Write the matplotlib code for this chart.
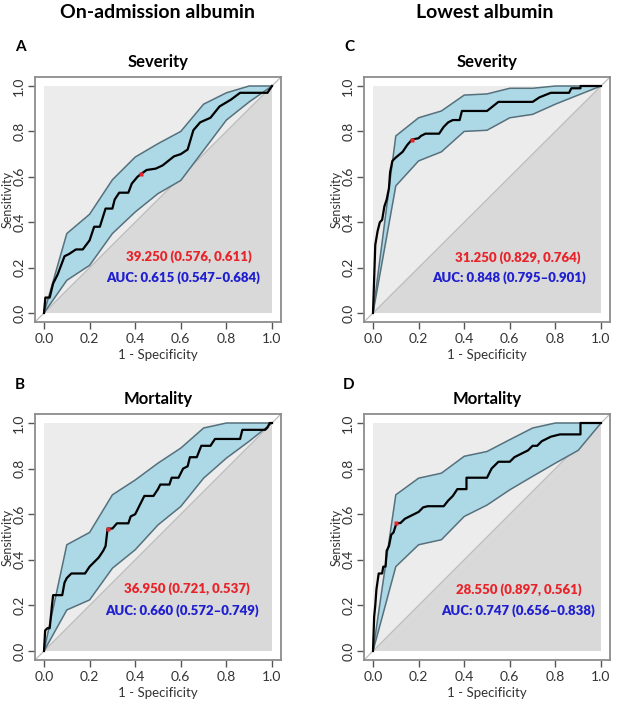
"""
ROC curves for albumin: on-admission vs lowest, severity and mortality.
Four panels, pROC-style with CI band for sensitivity.
"""

import matplotlib
matplotlib.use("Agg")
import matplotlib.pyplot as plt
from matplotlib.patches import Polygon, Rectangle

plt.rcParams["font.family"] = ["Lato", "DejaVu Sans"]

# CI band is evaluated at these 1 - specificity points
band_x = [0.0, 0.1, 0.2, 0.3, 0.4, 0.5, 0.6, 0.7, 0.8, 0.9, 1.0]

# --- A: on-admission albumin, severity
a_roc_x = [0, 0.006, 0.025, 0.04, 0.06, 0.09, 0.11, 0.14, 0.17, 0.2, 0.22, 0.245,
           0.27, 0.3, 0.31, 0.33, 0.37, 0.385, 0.41, 0.424, 0.45, 0.49, 0.52,
           0.57, 0.6, 0.63, 0.655, 0.685, 0.73, 0.77, 0.82, 0.86, 0.92, 0.98, 1.0]
a_roc_y = [0, 0.068, 0.068, 0.13, 0.17, 0.25, 0.26, 0.28, 0.28, 0.32, 0.38, 0.38,
           0.46, 0.46, 0.50, 0.53, 0.53, 0.57, 0.60, 0.611, 0.63, 0.636, 0.65,
           0.69, 0.70, 0.72, 0.805, 0.84, 0.86, 0.91, 0.94, 0.97, 0.97, 0.97, 1.0]
a_upper = [0, 0.35, 0.435, 0.587, 0.687, 0.746, 0.80, 0.92, 0.97, 1.0, 1.0]
a_lower = [0, 0.144, 0.21, 0.35, 0.445, 0.526, 0.584, 0.717, 0.85, 0.93, 1.0]
a_thr = (0.424, 0.611)
a_labels = ("39.250 (0.576, 0.611)", "AUC: 0.615 (0.547\u20130.684)")

# --- C: lowest albumin, severity
c_roc_x = [0, 0.005, 0.01, 0.02, 0.03, 0.04, 0.05, 0.06, 0.07, 0.075, 0.085, 0.1,
           0.13, 0.15, 0.171, 0.2, 0.21, 0.23, 0.29, 0.31, 0.33, 0.35, 0.38, 0.39,
           0.5, 0.55, 0.7, 0.73, 0.78, 0.86, 0.87, 0.91, 0.91, 1.0]
c_roc_y = [0, 0.15, 0.30, 0.36, 0.40, 0.41, 0.47, 0.50, 0.55, 0.62, 0.67, 0.685,
           0.71, 0.74, 0.764, 0.77, 0.78, 0.79, 0.79, 0.82, 0.84, 0.85, 0.85, 0.89,
           0.89, 0.93, 0.93, 0.95, 0.97, 0.97, 0.99, 0.99, 1.0, 1.0]
c_upper = [0, 0.78, 0.86, 0.89, 0.96, 0.965, 0.99, 0.99, 1.0, 1.0, 1.0]
c_lower = [0, 0.56, 0.67, 0.71, 0.80, 0.805, 0.86, 0.875, 0.92, 0.96, 1.0]
c_thr = (0.171, 0.764)
c_labels = ("31.250 (0.829, 0.764)", "AUC: 0.848 (0.795\u20130.901)")

# --- B: on-admission albumin, mortality
b_roc_x = [0, 0.005, 0.015, 0.025, 0.03, 0.035, 0.04, 0.08, 0.09, 0.1, 0.12, 0.18,
           0.2, 0.22, 0.24, 0.26, 0.27, 0.279, 0.3, 0.32, 0.37, 0.38, 0.4, 0.42,
           0.43, 0.44, 0.48, 0.5, 0.51, 0.55, 0.56, 0.59, 0.6, 0.61, 0.63, 0.64,
           0.67, 0.69, 0.73, 0.75, 0.86, 0.87, 0.97, 0.98, 0.99, 1.0]
b_roc_y = [0, 0.09, 0.10, 0.10, 0.15, 0.20, 0.245, 0.245, 0.30, 0.32, 0.34, 0.34,
           0.37, 0.39, 0.41, 0.44, 0.46, 0.537, 0.537, 0.56, 0.56, 0.59, 0.60, 0.64,
           0.66, 0.68, 0.68, 0.71, 0.73, 0.73, 0.76, 0.76, 0.78, 0.80, 0.81, 0.85,
           0.85, 0.90, 0.90, 0.93, 0.93, 0.97, 0.97, 0.98, 1.0, 1.0]
b_upper = [0, 0.466, 0.52, 0.685, 0.75, 0.824, 0.89, 0.978, 1.0, 1.0, 1.0]
b_lower = [0, 0.18, 0.224, 0.363, 0.444, 0.553, 0.634, 0.758, 0.846, 0.92, 1.0]
b_thr = (0.279, 0.537)
b_labels = ("36.950 (0.721, 0.537)", "AUC: 0.660 (0.572\u20130.749)")

# --- D: lowest albumin, mortality
d_roc_x = [0, 0.005, 0.01, 0.015, 0.025, 0.04, 0.045, 0.055, 0.06, 0.07, 0.08,
           0.09, 0.103, 0.12, 0.14, 0.18, 0.2, 0.22, 0.24, 0.31, 0.33, 0.35, 0.37,
           0.41, 0.41, 0.5, 0.52, 0.55, 0.6, 0.62, 0.66, 0.68, 0.7, 0.72, 0.74,
           0.78, 0.82, 0.91, 0.91, 1.0]
d_roc_y = [0, 0.15, 0.20, 0.27, 0.34, 0.34, 0.37, 0.37, 0.44, 0.46, 0.51,
           0.52, 0.561, 0.561, 0.58, 0.60, 0.61, 0.63, 0.635, 0.635, 0.66, 0.68, 0.71,
           0.71, 0.76, 0.76, 0.80, 0.83, 0.83, 0.85, 0.87, 0.88, 0.90, 0.90, 0.92,
           0.94, 0.95, 0.95, 1.0, 1.0]
d_upper = [0, 0.685, 0.758, 0.78, 0.854, 0.875, 0.927, 0.978, 1.0, 1.0, 1.0]
d_lower = [0, 0.37, 0.466, 0.488, 0.59, 0.64, 0.707, 0.766, 0.824, 0.88, 1.0]
d_thr = (0.103, 0.561)
d_labels = ("28.550 (0.897, 0.561)", "AUC: 0.747 (0.656\u20130.838)")

W, H = 618, 706
EXT = 0.04  # R's default axis extension


def make_axes(fig, x0, x1, y1, y0):
    """Axes whose data 0..1 lands on pixel x0..x1 and y0 (bottom)..y1 (top), top-origin px."""
    sx = (x1 - x0)
    sy = (y0 - y1)
    left = x0 - EXT * sx
    right = x1 + EXT * sx
    top = y1 - EXT * sy
    bottom = y0 + EXT * sy
    ax = fig.add_axes([left / W, 1 - bottom / H, (right - left) / W, (bottom - top) / H])
    ax.set_xlim(-EXT, 1 + EXT)
    ax.set_ylim(-EXT, 1 + EXT)
    return ax


def draw_roc(ax, rx, ry, up, lo, thr, labels, txt_pos, title):
    ax.add_patch(Rectangle((0, 0), 1, 1, facecolor="#ececec", edgecolor="none", zorder=0))
    ax.add_patch(Polygon([(0, 0), (1, 0), (1, 1)], closed=True, facecolor="#d9d9d9",
                         edgecolor="none", zorder=0.5))
    ax.plot([-EXT, 1 + EXT], [-EXT, 1 + EXT], color="#bdbdbd", lw=0.9, zorder=1)
    ax.fill_between(band_x, lo, up, facecolor="#add8e6", edgecolor="none", zorder=2)
    ax.plot(band_x, up, color="#56707c", lw=1.1, zorder=2.5)
    ax.plot(band_x, lo, color="#56707c", lw=1.1, zorder=2.5)
    ax.plot(rx, ry, color="black", lw=1.6, zorder=3)
    ax.plot([thr[0]], [thr[1]], marker="s", ms=3, color="#e8242b", mec="none", zorder=4)

    (rxp, ryp), (bxp, byp) = txt_pos
    ax.text(rxp, ryp, labels[0], color="#e8242b", fontsize=9.5, fontweight="heavy",
            ha="center", va="center", zorder=5)
    ax.text(bxp, byp, labels[1], color="#1f1fd0", fontsize=9.5, fontweight="heavy",
            ha="center", va="center", zorder=5)

    ticks = [0.0, 0.2, 0.4, 0.6, 0.8, 1.0]
    ax.set_xticks(ticks)
    ax.set_yticks(ticks)
    ax.set_xticklabels([f"{t:.1f}" for t in ticks])
    ax.set_yticklabels([f"{t:.1f}" for t in ticks], rotation=90, va="center")
    ax.tick_params(length=5, width=1, color="#555555", labelsize=10, labelcolor="#333333", pad=2)
    ax.tick_params(axis="x", pad=3)
    for s in ax.spines.values():
        s.set_color("#8c8c8c")
        s.set_linewidth(1.3)
    ax.set_xlabel("1 - Specificity", fontsize=9.5, color="#333333", va="center")
    ax.xaxis.set_label_coords(0.5, -0.135)
    ax.set_ylabel("Sensitivity", fontsize=9, color="#333333", va="center")
    ax.yaxis.set_label_coords(-0.11, 0.5)
    ax.set_title(title, fontsize=12, fontweight="bold", pad=7)


fig = plt.figure(figsize=(W / 100, H / 100), dpi=100)

ax_a = make_axes(fig, 44, 272, 86, 313)
ax_c = make_axes(fig, 373, 601, 86, 313)
ax_b = make_axes(fig, 44, 272, 423, 651)
ax_d = make_axes(fig, 373, 601, 423, 651)

draw_roc(ax_a, a_roc_x, a_roc_y, a_upper, a_lower, a_thr, a_labels,
         ((0.636, 0.247), (0.61, 0.154)), "Severity")
draw_roc(ax_c, c_roc_x, c_roc_y, c_upper, c_lower, c_thr, c_labels,
         ((0.636, 0.242), (0.597, 0.154)), "Severity")
draw_roc(ax_b, b_roc_x, b_roc_y, b_upper, b_lower, b_thr, b_labels,
         ((0.627, 0.272), (0.605, 0.175)), "Mortality")
draw_roc(ax_d, d_roc_x, d_roc_y, d_upper, d_lower, d_thr, d_labels,
         ((0.64, 0.268), (0.636, 0.175)), "Mortality")

# column headers and panel letters
fig.text(157 / W, 1 - 12 / H, "On-admission albumin", fontsize=14, fontweight="bold",
         ha="center", va="center")
fig.text(485 / W, 1 - 12 / H, "Lowest albumin", fontsize=14, fontweight="bold",
         ha="center", va="center")
for letter, px, py in [("A", 20, 47), ("C", 349, 47), ("B", 20, 385), ("D", 349, 385)]:
    fig.text(px / W, 1 - py / H, letter, fontsize=11, fontweight="bold",
             ha="center", va="center")

fig.savefig("out.png", dpi=100)
